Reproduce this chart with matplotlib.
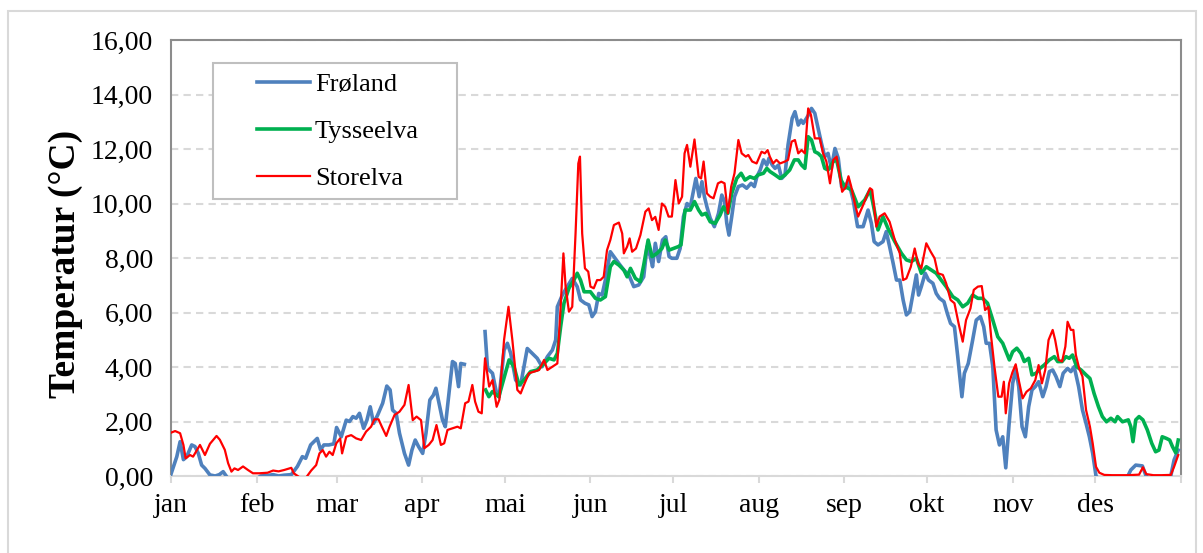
import numpy as np
import matplotlib
matplotlib.use("Agg")
import matplotlib.pyplot as plt
from matplotlib.patches import Rectangle

# månedsakse (dag i året)
months = ['jan', 'feb', 'mar', 'apr', 'mai', 'jun', 'jul', 'aug', 'sep', 'okt', 'nov', 'des']
month_start = [0, 31, 60, 91, 121, 152, 182, 213, 244, 274, 305, 335, 366]
y_ticks = [0, 2, 4, 6, 8, 10, 12, 14, 16]

# Frøland
froland_day = [0, 2.1, 3.3, 4.5, 5.7, 7.5, 8.7, 9.9, 11.1, 12.3, 14.1, 16, 17.5, 18.9, 20, 22, 25, 28, 31, 32.5,
               35, 37, 39, 41, 43.6, 45.8, 47.6, 48.8, 50.6, 51.8, 53, 54.2, 55.4, 57.2, 59, 60, 61.7, 63.5, 64.7,
               65.9, 67.1, 68.3, 69.8, 71, 72.2, 73.4, 74.9, 76.7, 78.2, 79.4, 80.3, 81.6, 82.8, 84.6, 86.1, 87.3,
               88.5, 89.7, 91.2, 92.4, 93.8, 95.1, 96, 97, 98.4, 99.4, 100.6, 102, 103, 104.2, 105, 106.3, 110,
               113.8, 114.7, 116.5, 118, 118.9, 120.7, 121.9, 123.1, 124.9, 126.7, 129.1, 130.9, 132.7, 134.5,
               136.4, 138.2, 139.4, 140, 141.8, 143.6, 145.4, 147.2, 148.4, 150, 151.4, 152.6, 153.8, 155, 156.2,
               157.4, 159.2, 160.5, 162.3, 164.1, 165.9, 167.7, 169.5, 171.3, 172.5, 173.7, 174.5, 175.5, 176.7,
               178.1, 179.3, 180.5, 181.5, 183.3, 184.5, 185.7, 187, 188.2, 189.4, 190.2, 191.4, 192.4, 193.3,
               194.2, 195.4, 196.9, 198.4, 199.6, 200.6, 201.4, 202.2, 203.2, 204.2, 205.6, 207.1, 208.6, 210.2,
               211.4, 212.3, 213.5, 214.7, 215.9, 216.7, 217.9, 218.9, 220.1, 221.3, 222.5, 223.6, 225.1, 226.1,
               227.3, 228.3, 229.1, 230.3, 231, 232.1, 233.3, 234.5, 235.7, 236.9, 238.1, 239.3, 240.6, 241.8,
               243, 244.2, 245.4, 247.2, 248.8, 250.8, 252.6, 253.8, 254.8, 256.2, 258, 259.2, 260.4, 261.7,
               262.9, 264.1, 265.3, 266.5, 267.7, 268.9, 270.1, 270.9, 271.9, 273.3, 274.5, 276.1, 277.3, 278.5,
               280.1, 281.3, 282.5, 283.9, 285.1, 286.6, 287.5, 288.9, 290.5, 291.8, 293.3, 294.5, 295.4, 296.6,
               297.8, 299, 300.2, 301.4, 302.5, 303.7, 305, 306.1, 307.2, 308.4, 309.6, 310.8, 312, 313.2, 314.4,
               315.9, 317.1, 318.3, 319.5, 320.7, 322.1, 323.3, 324.9, 326.1, 327.3, 328.9, 330.3, 331.6, 332.8,
               334, 335.2, 337, 340, 343, 346, 347, 347.8, 349.6, 352, 353.2, 355, 358, 361, 362.3, 363.5, 365]
froland_temp = [0.07, 0.71, 1.26, 0.6, 0.71, 1.14, 1.08, 0.83, 0.40, 0.28, 0.04, 0.0, 0.05, 0.16, 0.0, -0.3, -0.4,
                -0.3, -0.1, 0.0, 0.02, 0.05, 0.0, 0.03, 0.05, 0.35, 0.71, 0.65, 1.14, 1.26, 1.38, 0.96, 1.14, 1.14,
                1.18, 1.78, 1.44, 2.05, 2.0, 2.18, 2.12, 2.30, 1.75, 2.05, 2.54, 1.93, 2.24, 2.67, 3.30, 3.16, 2.42,
                2.30, 1.57, 0.83, 0.40, 0.95, 1.32, 1.08, 0.83, 1.57, 2.79, 2.97, 3.22, 2.73, 2.05, 1.81, 2.91, 4.20,
                4.13, 3.28, 4.13, 4.10, np.nan, 5.30, 3.95, 3.77, 3.03, 2.9, 4.62, 4.87, 4.5, 3.52, 3.34, 4.68, 4.5,
                4.32, 4.01, 4.38, 4.62, 4.99, 6.21, 6.64, 6.95, 7.25, 6.95, 6.46, 6.34, 6.28, 5.85, 6.03, 6.7, 6.64,
                7.19, 8.23, 8.05, 7.80, 7.56, 7.38, 6.95, 7.01, 7.31, 8.42, 8.05, 7.68, 8.54, 7.87, 8.66, 8.78, 8.05,
                7.99, 7.99, 8.35, 9.52, 10.0, 9.88, 10.5, 10.92, 10.25, 10.8, 10.25, 9.88, 9.46, 9.15, 9.64, 10.31,
                10.07, 9.27, 8.84, 9.52, 10.25, 10.62, 10.68, 10.56, 10.74, 10.62, 10.98, 11.23, 11.60, 11.41,
                11.66, 11.41, 11.29, 11.41, 10.92, 11.05, 12.15, 13.13, 13.37, 12.88, 13.06, 12.94, 13.13, 13.25,
                13.49, 13.31, 12.76, 12.21, 11.72, 11.84, 11.29, 12.02, 11.66, 10.62, 10.56, 10.86, 10.13, 9.15,
                9.15, 9.76, 9.27, 8.6, 8.48, 8.6, 8.97, 8.42, 7.80, 7.19, 7.19, 6.46, 5.91, 6.03, 6.70, 7.38, 6.64,
                6.95, 7.44, 7.19, 7.07, 6.70, 6.52, 6.40, 5.97, 5.60, 5.48, 4.38, 2.91, 3.77, 4.13, 4.99, 5.72,
                5.85, 5.48, 4.87, 4.87, 4.01, 1.69, 1.14, 1.44, 0.3, 1.9, 3.4, 3.92, 3.28, 1.81, 1.44, 2.54, 3.16,
                3.28, 3.46, 2.91, 3.28, 3.83, 3.89, 3.65, 3.28, 3.77, 3.95, 3.83, 4.01, 3.28, 2.42, 1.93, 1.44,
                0.83, 0.0, -0.2, -0.3, -0.3, -0.1, 0.05, 0.22, 0.40, 0.37, 0.04, -0.2, -0.3, -0.1, 0.0, 0.59, 0.95]

# Tysseelva
tysse_day = [114, 115.2, 116.5, 118.8, 120.7, 122.5, 124.3, 126.1, 127.9, 130.3, 132.7, 135.2, 137, 138.8, 140,
             141.2, 142.4, 144.2, 146, 147.2, 148.4, 149.7, 150.8, 152, 153.8, 155.6, 157.4, 159.2, 160.5, 162.3,
             164.1, 165.3, 166.5, 168.3, 170.1, 171.3, 172.9, 174.3, 176.1, 177.9, 179.1, 180.5, 182.1, 183.9,
             184.8, 186.3, 188.2, 189.7, 191.2, 192.4, 193.8, 195.4, 197.2, 199, 200.2, 201.8, 203.2, 205, 206.6,
             208, 209.8, 211.4, 212.8, 214.7, 215.9, 217.1, 218.9, 220.7, 222.5, 224.2, 225.9, 227.3, 228.5,
             229.7, 230.9, 232.1, 233.3, 234.5, 235.7, 236.9, 238.1, 240, 241.2, 242.8, 244.2, 246.6, 249, 251.4,
             253.3, 254.4, 256.2, 258, 259.8, 262.3, 264.7, 266.5, 268.3, 270.1, 271.9, 273.7, 275.5, 277.3,
             279.1, 280.9, 283.3, 285.1, 286.9, 288.7, 290.5, 292.4, 294.1, 295.9, 297.8, 299.6, 301.4, 302.6,
             303.8, 305, 306.5, 308, 309.2, 310.8, 312, 313.5, 314.9, 316.4, 318.3, 320.1, 321.3, 322.9, 324.3,
             325.5, 326.7, 328.2, 329.8, 331.6, 333, 334.5, 336.1, 337.5, 339, 340.6, 342.1, 343, 344.8, 346.9,
             347.8, 348.6, 349.6, 350.8, 352.2, 353.8, 355.4, 356.8, 358, 359.2, 360.7, 361.9, 362.9, 364.1, 365]
tysse_temp = [3.16, 2.91, 3.10, 2.91, 3.6, 4.26, 4.01, 3.34, 3.52, 3.83, 3.89, 4.13, 4.32, 4.26, 4.50, 5.48, 6.34,
              6.89, 7.19, 7.44, 7.19, 6.76, 6.76, 6.76, 6.52, 6.46, 6.58, 7.68, 7.87, 7.74, 7.56, 7.31, 7.62, 7.25,
              7.13, 7.74, 8.66, 8.05, 8.17, 8.35, 8.66, 8.29, 8.35, 8.42, 8.48, 9.76, 9.76, 10.07, 9.76, 9.58, 9.64,
              9.33, 9.27, 9.58, 9.88, 9.64, 10.37, 10.92, 11.11, 10.86, 10.98, 10.92, 11.05, 11.11, 11.29, 11.17,
              11.05, 10.92, 11.05, 11.23, 11.60, 11.60, 11.41, 11.29, 12.45, 12.33, 11.9, 11.84, 11.72, 11.29,
              11.23, 11.54, 11.60, 10.86, 10.62, 10.5, 9.88, 10.13, 10.5, 10.0, 9.03, 9.52, 9.09, 8.60, 8.17, 7.93,
              7.87, 7.99, 7.44, 7.68, 7.56, 7.44, 7.19, 6.95, 6.58, 6.46, 6.21, 6.34, 6.64, 6.52, 6.52, 6.34, 5.72,
              5.11, 4.87, 4.56, 4.26, 4.56, 4.69, 4.50, 4.20, 4.32, 3.71, 3.77, 3.95, 4.07, 4.26, 4.38, 4.20, 4.20,
              4.38, 4.32, 4.44, 4.01, 3.89, 3.71, 3.58, 3.03, 2.54, 2.18, 1.99, 2.12, 1.99, 2.18, 1.99, 2.06, 1.81,
              1.26, 2.06, 2.18, 2.06, 1.69, 1.20, 0.89, 0.95, 1.44, 1.38, 1.32, 1.08, 0.85, 1.32]

# Storelva
store_day = [0, 1.5, 3.3, 4.5, 5.3, 6.9, 8, 10.5, 12.3, 14.1, 16.5, 17.7, 19.5, 20.7, 21.9, 23, 24.3, 26.1, 27.9,
             29.7, 32, 35, 37, 39, 41, 43.6, 44.5, 46.6, 49, 50.8, 52.6, 53.8, 55, 56.2, 57.4, 58.6, 59.9, 61.3,
             62, 63.5, 65.3, 67.1, 68.9, 70.7, 72.5, 73.7, 75.2, 76.4, 78, 79.2, 81, 82.8, 84.6, 86.1, 87.6, 89,
             90.6, 91.8, 93.4, 94.8, 96.2, 97.8, 99, 100.2, 102, 103.8, 105, 106.6, 107.8, 109.2, 110.2, 111.4,
             112.6, 113.8, 115.3, 116.5, 118, 119, 120.7, 122.3, 123.7, 125.5, 126.7, 127.9, 129.7, 131.5, 133.4,
             135.2, 136.4, 138.2, 140, 141.2, 142.2, 143, 144.2, 145.4, 146.6, 147.6, 148.2, 149, 150, 151.2, 152,
             153.2, 154.4, 155.6, 156.8, 158, 159.2, 160.5, 162.3, 163.5, 164.1, 165.3, 166.2, 167.1, 168.5,
             170.1, 171.9, 173.1, 174.3, 175.5, 176.7, 177.9, 179.1, 180.3, 181.5, 182.8, 184, 185.2, 186.1, 187,
             188.2, 189.7, 191.2, 192.1, 193, 194.2, 195.4, 196.6, 198.2, 199.4, 200.6, 201.8, 203, 204.2, 205.6,
             206.8, 208.3, 209.2, 210.6, 212.2, 214, 215.2, 216.2, 217, 218.2, 219.4, 220.7, 222.5, 223.6, 224.9,
             226.1, 227.3, 228.5, 229.7, 230.9, 231.9, 233.3, 235.1, 236.3, 237.5, 238.8, 240, 241.2, 242.4,
             243.2, 244.5, 245.5, 246.5, 247.8, 249, 250.8, 253.3, 254.1, 255.6, 256.8, 258.6, 260.4, 262.3,
             264.1, 265.3, 266.5, 268.1, 269.5, 270.7, 271.9, 273.7, 275.3, 276.7, 277.9, 279.7, 280.9, 282.5,
             283.9, 285.4, 286.9, 288.1, 289.7, 290.9, 292.4, 293.8, 295, 296.2, 297.2, 298.4, 299.8, 301, 301.8,
             302.5, 303.7, 304.9, 306.1, 307.2, 308.6, 310, 311.6, 313.2, 314.4, 315.6, 316.8, 318, 319.5, 320.4,
             321.7, 322.9, 324.1, 324.9, 326.1, 327, 327.9, 329.1, 330.3, 331.6, 333, 334, 335.2, 336.4, 338.2,
             341, 344, 347, 350.8, 352.2, 353.4, 356, 359, 362.3, 363.5, 365]
store_temp = [1.59, 1.65, 1.57, 1.14, 0.65, 0.77, 0.71, 1.14, 0.77, 1.18, 1.47, 1.33, 0.96, 0.47, 0.16, 0.28, 0.22,
              0.35, 0.22, 0.10, 0.1, 0.12, 0.2, 0.17, 0.22, 0.3, 0.1, -0.05, -0.05, 0.2, 0.4, 0.83, 0.95, 0.71,
              0.89, 0.77, 1.2, 1.38, 0.83, 1.44, 1.5, 1.38, 1.32, 1.63, 1.81, 2.08, 2.08, 1.81, 1.47, 1.81, 2.24,
              2.36, 2.61, 3.34, 2.05, 2.18, 2.05, 1.02, 1.14, 1.32, 1.87, 1.14, 1.2, 1.69, 1.75, 1.81, 1.75, 2.67,
              2.73, 3.34, 2.73, 2.36, 2.30, 4.32, 3.28, 3.52, 2.54, 2.8, 5.0, 6.21, 4.99, 3.16, 3.03, 3.34, 3.77,
              3.83, 3.89, 4.26, 3.89, 4.01, 4.13, 6.21, 8.17, 6.95, 6.03, 6.21, 8.9, 11.47, 11.72, 8.9, 7.62, 7.5,
              6.95, 6.89, 7.19, 7.19, 7.31, 8.29, 8.66, 9.21, 9.30, 8.9, 8.17, 8.42, 8.72, 8.23, 8.35, 8.84, 9.70,
              9.82, 9.39, 9.51, 9.03, 10.0, 9.88, 9.52, 9.52, 10.86, 10.0, 10.25, 11.84, 12.15, 11.35, 12.35,
              10.98, 10.92, 11.54, 10.37, 10.25, 10.19, 10.74, 10.8, 10.74, 9.64, 10.62, 11.11, 12.33, 11.84,
              11.72, 11.78, 11.54, 11.47, 11.90, 11.84, 11.96, 11.72, 11.47, 11.60, 11.47, 11.54, 11.60, 12.27,
              12.33, 11.84, 11.96, 11.84, 13.49, 13.25, 12.39, 12.39, 11.84, 11.54, 10.74, 11.6, 11.72, 10.98,
              10.43, 10.6, 11.0, 10.62, 10.0, 9.52, 9.94, 10.56, 10.5, 9.15, 9.52, 9.64, 9.33, 8.66, 8.17, 7.19,
              7.25, 7.68, 8.35, 7.80, 7.62, 8.54, 8.23, 7.99, 7.44, 7.38, 7.07, 6.46, 6.34, 5.60, 4.93, 5.72, 6.15,
              6.83, 6.95, 6.97, 6.09, 6.21, 5.11, 4.01, 2.91, 2.91, 3.46, 2.30, 3.40, 3.8, 4.1, 3.52, 2.85, 3.09,
              3.22, 3.52, 4.07, 3.40, 3.89, 4.99, 5.36, 4.99, 4.26, 4.20, 4.75, 5.66, 5.36, 5.36, 4.44, 3.95, 3.65,
              2.42, 1.81, 1.20, 0.34, 0.12, 0.04, 0.03, 0.03, 0.03, 0.05, 0.32, 0.07, 0.03, 0.03, 0.04, 0.34, 0.77]

plt.rcParams['font.family'] = ['Liberation Serif', 'DejaVu Serif']

W, H = 1203, 553
fig = plt.figure(figsize=(W / 100, H / 100), dpi=100)
ax = fig.add_axes([171 / W, 1 - 476 / H, (1181 - 171) / W, (476 - 40) / H])

ax.plot(froland_day, froland_temp, color='#4F81BD', lw=2.6, label='Frøland', zorder=3)
ax.plot(tysse_day, tysse_temp, color='#00B050', lw=2.6, label='Tysseelva', zorder=4)
ax.plot(store_day, store_temp, color='#FF0000', lw=1.6, label='Storelva', zorder=5)

ax.set_xlim(0, 366)
ax.set_ylim(0, 16)
ax.set_xticks(month_start)
ax.set_xticklabels(months + [''])
ax.set_yticks(y_ticks)
ax.set_yticklabels([f"{v:.2f}".replace('.', ',') for v in y_ticks])
ax.tick_params(axis='x', labelsize=20, length=5, width=1.5, color='#d9d9d9', pad=7)
ax.tick_params(axis='y', labelsize=20, length=0, pad=13)

ax.grid(axis='y', color='#d9d9d9', lw=1.5, ls=(0, (3.5, 2.5)), zorder=0)
ax.set_axisbelow(True)
for s in ['left', 'top', 'right']:
    ax.spines[s].set_color('#8c8c8c')
    ax.spines[s].set_linewidth(1.5)
ax.spines['bottom'].set_color('#d9d9d9')
ax.spines['bottom'].set_linewidth(1.5)

ax.set_ylabel('Temperatur (°C)', fontsize=27, fontweight='bold')
ax.yaxis.set_label_coords((83 - 171) / 1010, (476 - 264) / 436)

# legendeboks
box = Rectangle((213 / W, 1 - 199 / H), (457 - 213) / W, (199 - 63) / H, transform=fig.transFigure,
                facecolor='white', edgecolor='#bfbfbf', lw=1.5, zorder=6)
ax.add_patch(box)
ax.legend(loc='upper left', bbox_to_anchor=(257 / W, 1 - 73 / H), bbox_transform=fig.transFigure,
          frameon=False, fontsize=19, borderpad=0, handlelength=2.0, handletextpad=0.2,
          labelspacing=0.88, borderaxespad=0).set_zorder(7)

# ytre ramme
fig.add_artist(Rectangle((7.5 / W, -0.02), (1196 - 7.5) / W, 1.02 - 10.5 / H, transform=fig.transFigure,
                         fill=False, edgecolor='#d9d9d9', lw=1.5))

fig.savefig('out.png', dpi=100)
